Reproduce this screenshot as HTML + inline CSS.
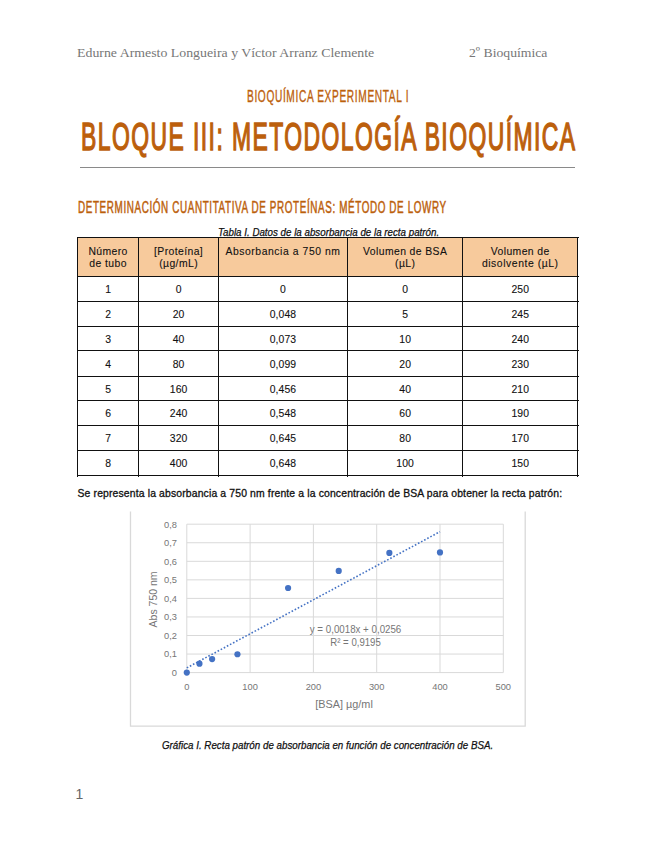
<!DOCTYPE html>
<html><head><meta charset="utf-8">
<style>
html,body{margin:0;padding:0;background:#fff;}
body{width:655px;height:848px;position:relative;overflow:hidden;font-family:"Liberation Sans",sans-serif;}
.a{position:absolute;white-space:nowrap;line-height:1;}
.hdr{font-family:"Liberation Serif",serif;color:#777;font-size:13.3px;transform-origin:0 0;}
.or{color:#BC5F0C;transform-origin:0 0;}
.th,.td{width:120px;text-align:center;font-size:10.4px;color:#111;letter-spacing:0.4px;}
.td{letter-spacing:0.1px;}
.th,.td{-webkit-text-stroke:0.1px #111;}
</style></head><body>
<div class="a hdr" id="h1" style="left:76.5px;top:45.5px;transform:scaleX(1.041);">Edurne Armesto Longueira y Víctor Arranz Clemente</div>
<div class="a hdr" id="h2" style="left:469px;top:45.5px;transform:scaleX(1.03);">2º Bioquímica</div>
<div class="a or" id="sub" style="left:247px;top:89px;font-size:16px;letter-spacing:1px;-webkit-text-stroke:0.35px #BC5F0C;transform:scaleX(0.635);">BIOQUÍMICA EXPERIMENTAL I</div>
<div class="a or" id="title" style="left:80.5px;top:116.5px;font-size:39.6px;letter-spacing:2.5px;-webkit-text-stroke:1.5px #BC5F0C;transform:scaleX(0.5788);">BLOQUE III: METODOLOGÍA BIOQUÍMICA</div>
<div class="a" style="left:80.3px;top:167px;width:494.5px;height:1.4px;background:#8a8a8a;"></div>
<div class="a or" id="sec" style="left:78px;top:200px;font-size:16px;letter-spacing:1px;-webkit-text-stroke:0.5px #BC5F0C;transform:scaleX(0.617);">DETERMINACIÓN CUANTITATIVA DE PROTEÍNAS: MÉTODO DE LOWRY</div>
<div class="a" id="cap" style="left:218px;top:226.5px;font-size:10.5px;font-style:italic;color:#111;-webkit-text-stroke:0.25px #111;transform-origin:0 0;transform:scaleX(0.93);">Tabla I. Datos de la absorbancia de la recta patrón.</div>
<div id="tbl">
<div class="a" style="left:77.5px;top:237.5px;width:500.1px;height:39.1px;background:#F7CA9C"></div>
<div class="a" style="left:77.0px;top:237.0px;width:1.3px;height:239.60px;background:#111"></div>
<div class="a" style="left:138.0px;top:237.0px;width:1.3px;height:239.60px;background:#111"></div>
<div class="a" style="left:218.0px;top:237.0px;width:1.3px;height:239.60px;background:#111"></div>
<div class="a" style="left:347.0px;top:237.0px;width:1.3px;height:239.60px;background:#111"></div>
<div class="a" style="left:462.0px;top:237.0px;width:1.3px;height:239.60px;background:#111"></div>
<div class="a" style="left:577.0px;top:237.0px;width:1.3px;height:239.60px;background:#111"></div>
<div class="a" style="left:77.0px;top:237.0px;width:501.60px;height:1.3px;background:#111"></div>
<div class="a" style="left:77.0px;top:276.0px;width:501.60px;height:1.3px;background:#111"></div>
<div class="a" style="left:77.0px;top:301.0px;width:501.60px;height:1.3px;background:#111"></div>
<div class="a" style="left:77.0px;top:326.0px;width:501.60px;height:1.3px;background:#111"></div>
<div class="a" style="left:77.0px;top:350.0px;width:501.60px;height:1.3px;background:#111"></div>
<div class="a" style="left:77.0px;top:376.0px;width:501.60px;height:1.3px;background:#111"></div>
<div class="a" style="left:77.0px;top:400.0px;width:501.60px;height:1.3px;background:#111"></div>
<div class="a" style="left:77.0px;top:425.0px;width:501.60px;height:1.3px;background:#111"></div>
<div class="a" style="left:77.0px;top:450.0px;width:501.60px;height:1.3px;background:#111"></div>
<div class="a" style="left:77.0px;top:475.0px;width:501.60px;height:1.3px;background:#111"></div>
<div class="a th" style="left:48.10px;top:246.50px;">Número</div>
<div class="a th" style="left:48.10px;top:259.30px;">de tubo</div>
<div class="a th" style="left:118.60px;top:246.50px;">[Proteína]</div>
<div class="a th" style="left:118.60px;top:259.30px;">(µg/mL)</div>
<div class="a th" style="left:223.00px;top:246.50px;letter-spacing:0.56px;">Absorbancia a 750 nm</div>
<div class="a th" style="left:345.20px;top:246.50px;">Volumen de BSA</div>
<div class="a th" style="left:345.20px;top:259.30px;">(µL)</div>
<div class="a th" style="left:460.25px;top:246.50px;">Volumen de</div>
<div class="a th" style="left:460.25px;top:259.30px;letter-spacing:0.55px;">disolvente (µL)</div>
<div class="a td" style="left:48.10px;top:285.15px;">1</div>
<div class="a td" style="left:118.60px;top:285.15px;">0</div>
<div class="a td" style="left:223.00px;top:285.15px;">0</div>
<div class="a td" style="left:345.20px;top:285.15px;">0</div>
<div class="a td" style="left:460.25px;top:285.15px;">250</div>
<div class="a td" style="left:48.10px;top:310.10px;">2</div>
<div class="a td" style="left:118.60px;top:310.10px;">20</div>
<div class="a td" style="left:223.00px;top:310.10px;">0,048</div>
<div class="a td" style="left:345.20px;top:310.10px;">5</div>
<div class="a td" style="left:460.25px;top:310.10px;">245</div>
<div class="a td" style="left:48.10px;top:334.80px;">3</div>
<div class="a td" style="left:118.60px;top:334.80px;">40</div>
<div class="a td" style="left:223.00px;top:334.80px;">0,073</div>
<div class="a td" style="left:345.20px;top:334.80px;">10</div>
<div class="a td" style="left:460.25px;top:334.80px;">240</div>
<div class="a td" style="left:48.10px;top:359.70px;">4</div>
<div class="a td" style="left:118.60px;top:359.70px;">80</div>
<div class="a td" style="left:223.00px;top:359.70px;">0,099</div>
<div class="a td" style="left:345.20px;top:359.70px;">20</div>
<div class="a td" style="left:460.25px;top:359.70px;">230</div>
<div class="a td" style="left:48.10px;top:384.55px;">5</div>
<div class="a td" style="left:118.60px;top:384.55px;">160</div>
<div class="a td" style="left:223.00px;top:384.55px;">0,456</div>
<div class="a td" style="left:345.20px;top:384.55px;">40</div>
<div class="a td" style="left:460.25px;top:384.55px;">210</div>
<div class="a td" style="left:48.10px;top:409.30px;">6</div>
<div class="a td" style="left:118.60px;top:409.30px;">240</div>
<div class="a td" style="left:223.00px;top:409.30px;">0,548</div>
<div class="a td" style="left:345.20px;top:409.30px;">60</div>
<div class="a td" style="left:460.25px;top:409.30px;">190</div>
<div class="a td" style="left:48.10px;top:434.40px;">7</div>
<div class="a td" style="left:118.60px;top:434.40px;">320</div>
<div class="a td" style="left:223.00px;top:434.40px;">0,645</div>
<div class="a td" style="left:345.20px;top:434.40px;">80</div>
<div class="a td" style="left:460.25px;top:434.40px;">170</div>
<div class="a td" style="left:48.10px;top:459.30px;">8</div>
<div class="a td" style="left:118.60px;top:459.30px;">400</div>
<div class="a td" style="left:223.00px;top:459.30px;">0,648</div>
<div class="a td" style="left:345.20px;top:459.30px;">100</div>
<div class="a td" style="left:460.25px;top:459.30px;">150</div>
</div>
<div class="a" id="para" style="left:77.5px;top:488.5px;font-size:10.4px;color:#111;letter-spacing:0.145px;-webkit-text-stroke:0.3px #111;">Se representa la absorbancia a 750 nm frente a la concentración de BSA para obtener la recta patrón:</div>
<svg class="a" style="left:0;top:0;" width="655" height="848" viewBox="0 0 655 848" id="chart">
<g style="font-family:'Liberation Sans',sans-serif;font-size:9.3px;fill:#767676">
<path d="M130.5 511.5V726.2H525.2V511.5" fill="none" stroke="#D9D9D9" stroke-width="1.3"/>
<line x1="186.8" y1="672.60" x2="503.30" y2="672.60" stroke="#D9D9D9" stroke-width="1"/>
<line x1="186.8" y1="654.05" x2="503.30" y2="654.05" stroke="#D9D9D9" stroke-width="1"/>
<line x1="186.8" y1="635.50" x2="503.30" y2="635.50" stroke="#D9D9D9" stroke-width="1"/>
<line x1="186.8" y1="616.95" x2="503.30" y2="616.95" stroke="#D9D9D9" stroke-width="1"/>
<line x1="186.8" y1="598.40" x2="503.30" y2="598.40" stroke="#D9D9D9" stroke-width="1"/>
<line x1="186.8" y1="579.85" x2="503.30" y2="579.85" stroke="#D9D9D9" stroke-width="1"/>
<line x1="186.8" y1="561.30" x2="503.30" y2="561.30" stroke="#D9D9D9" stroke-width="1"/>
<line x1="186.8" y1="542.75" x2="503.30" y2="542.75" stroke="#D9D9D9" stroke-width="1"/>
<line x1="186.8" y1="524.20" x2="503.30" y2="524.20" stroke="#D9D9D9" stroke-width="1"/>
<line x1="186.80" y1="524.20" x2="186.80" y2="672.6" stroke="#D9D9D9" stroke-width="1"/>
<line x1="250.10" y1="524.20" x2="250.10" y2="672.6" stroke="#D9D9D9" stroke-width="1"/>
<line x1="313.40" y1="524.20" x2="313.40" y2="672.6" stroke="#D9D9D9" stroke-width="1"/>
<line x1="376.70" y1="524.20" x2="376.70" y2="672.6" stroke="#D9D9D9" stroke-width="1"/>
<line x1="440.00" y1="524.20" x2="440.00" y2="672.6" stroke="#D9D9D9" stroke-width="1"/>
<line x1="503.30" y1="524.20" x2="503.30" y2="672.6" stroke="#D9D9D9" stroke-width="1"/>
<text x="177" y="675.90" text-anchor="end">0</text>
<text x="177" y="657.35" text-anchor="end">0,1</text>
<text x="177" y="638.80" text-anchor="end">0,2</text>
<text x="177" y="620.25" text-anchor="end">0,3</text>
<text x="177" y="601.70" text-anchor="end">0,4</text>
<text x="177" y="583.15" text-anchor="end">0,5</text>
<text x="177" y="564.60" text-anchor="end">0,6</text>
<text x="177" y="546.05" text-anchor="end">0,7</text>
<text x="177" y="527.50" text-anchor="end">0,8</text>
<text x="186.80" y="690.4" text-anchor="middle">0</text>
<text x="250.10" y="690.4" text-anchor="middle">100</text>
<text x="313.40" y="690.4" text-anchor="middle">200</text>
<text x="376.70" y="690.4" text-anchor="middle">300</text>
<text x="440.00" y="690.4" text-anchor="middle">400</text>
<text x="503.30" y="690.4" text-anchor="middle">500</text>
<text x="0" y="0" transform="translate(156.5 599.4) rotate(-90)" text-anchor="middle" style="font-size:10.5px">Abs 750 nm</text>
<text x="315.3" y="708" style="font-size:10.3px" textLength="57.5" lengthAdjust="spacingAndGlyphs">[BSA] µg/ml</text>
<line x1="186.80" y1="667.85" x2="440.00" y2="531.69" stroke="#4472C4" stroke-width="1.6" stroke-dasharray="1.6 1.9"/>
<circle cx="186.80" cy="672.60" r="3.1" fill="#4472C4"/>
<circle cx="199.46" cy="663.70" r="3.1" fill="#4472C4"/>
<circle cx="212.12" cy="659.06" r="3.1" fill="#4472C4"/>
<circle cx="237.44" cy="654.24" r="3.1" fill="#4472C4"/>
<circle cx="288.08" cy="588.01" r="3.1" fill="#4472C4"/>
<circle cx="338.72" cy="570.95" r="3.1" fill="#4472C4"/>
<circle cx="389.36" cy="552.95" r="3.1" fill="#4472C4"/>
<circle cx="440.00" cy="552.40" r="3.1" fill="#4472C4"/>
<text x="309.8" y="632.6" style="font-size:10.3px" textLength="91.5" lengthAdjust="spacingAndGlyphs">y = 0,0018x + 0,0256</text>
<text x="330.3" y="645.6" style="font-size:10.3px" textLength="50.5" lengthAdjust="spacingAndGlyphs">R² = 0,9195</text>
</g>
</svg>
<div class="a" id="gcap" style="left:162px;top:739.5px;font-size:10.5px;font-style:italic;color:#111;-webkit-text-stroke:0.25px #111;transform-origin:0 0;transform:scaleX(0.93);">Gráfica I. Recta patrón de absorbancia en función de concentración de BSA.</div>
<div class="a" id="pg" style="left:75.5px;top:787px;font-size:14px;color:#666;">1</div>
</body></html>
